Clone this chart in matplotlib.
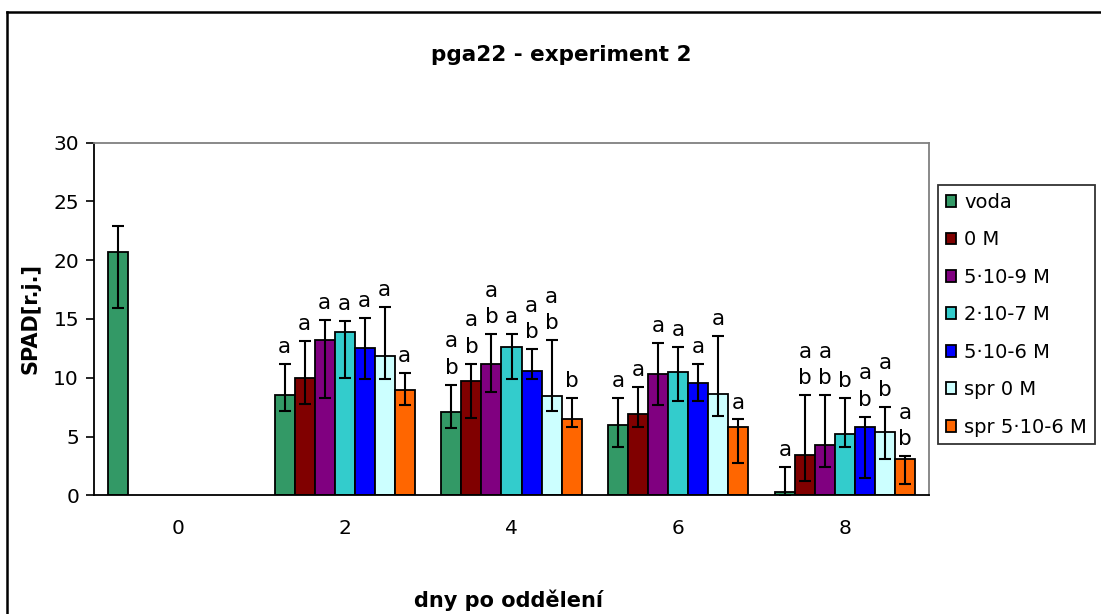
import numpy as np
import matplotlib.pyplot as plt
from matplotlib.lines import Line2D

plt.rcParams['font.family'] = ['DejaVu Sans']

days = ['0', '2', '4', '6', '8']
series = ['voda', '0 M', '5·10-9 M', '2·10-7 M', '5·10-6 M', 'spr 0 M', 'spr 5·10-6 M']
colors = ['#339966', '#800000', '#800080', '#33CCCC', '#0000FF', '#CCFFFF', '#FF6600']

nan = np.nan
voda = [20.7, 8.5, 7.05, 6.0, 0.25]
m0 = [nan, 10.0, 9.7, 6.9, 3.4]
m5e9 = [nan, 13.25, 11.2, 10.35, 4.3]
m2e7 = [nan, 13.9, 12.6, 10.5, 5.25]
m5e6 = [nan, 12.5, 10.6, 9.55, 5.85]
spr0 = [nan, 11.85, 8.45, 8.6, 5.4]
spr5e6 = [nan, 8.95, 6.45, 5.85, 3.05]
values = [voda, m0, m5e9, m2e7, m5e6, spr0, spr5e6]

# upper / lower error lengths
err_up = [[2.25, 2.7, 2.35, 2.3, 2.15],
          [nan, 3.1, 1.5, 2.3, 5.1],
          [nan, 1.65, 2.5, 2.6, 4.2],
          [nan, 0.9, 1.1, 2.1, 3.05],
          [nan, 2.6, 1.85, 1.65, 0.85],
          [nan, 4.15, 4.75, 4.95, 2.15],
          [nan, 1.45, 1.85, 0.6, 0.3]]
err_lo = [[4.8, 1.3, 1.35, 1.85, 0.25],
          [nan, 2.2, 3.1, 1.05, 2.2],
          [nan, 4.95, 2.45, 2.7, 1.85],
          [nan, 3.9, 2.7, 2.45, 1.1],
          [nan, 2.6, 0.7, 1.5, 4.35],
          [nan, 1.95, 1.25, 1.85, 2.35],
          [nan, 1.25, 0.6, 3.1, 2.1]]

letters = [['', 'a', 'a\nb', 'a', 'a'],
           ['', 'a', 'a\nb', 'a', 'a\nb'],
           ['', 'a', 'a\nb', 'a', 'a\nb'],
           ['', 'a', 'a', 'a', 'b'],
           ['', 'a', 'a\nb', 'a', 'a\nb'],
           ['', 'a', 'a\nb', 'a', 'a\nb'],
           ['', 'a', 'b', 'a', 'a\nb']]

W, H = 1101, 614
fig = plt.figure(figsize=(W / 100, H / 100), dpi=100)
ax = fig.add_axes([94.3 / W, 1 - 495.3 / H, (928.7 - 94.3) / W, (495.3 - 142.7) / H])

x = np.arange(len(days))
bw = 0.12
handles = []
for i, name in enumerate(series):
    pos = x + (i - 3) * bw
    vals = np.array(values[i], dtype=float)
    b = ax.bar(pos, vals, bw, color=colors[i], edgecolor='black', linewidth=1.3, label=name, zorder=2)
    handles.append(b)
    ax.errorbar(pos, vals, yerr=[err_lo[i], err_up[i]], fmt='none', ecolor='black',
                elinewidth=1.5, capsize=4.5, capthick=1.5, zorder=3)
    for j in range(len(days)):
        if letters[i][j]:
            top = vals[j] + err_up[i][j]
            ax.annotate(letters[i][j], (pos[j], top), xytext=(0, 5), textcoords='offset points',
                        ha='center', va='bottom', fontsize=15.5, linespacing=1.4, zorder=4)

ax.set_xlim(-0.5, 4.5)
ax.set_ylim(0, 30)
ax.set_yticks([0, 5, 10, 15, 20, 25, 30])
ax.set_xticks(x)
ax.set_xticklabels(days)
ax.tick_params(axis='y', length=6, width=1.2, labelsize=14.5, direction='out', pad=5)
ax.tick_params(axis='x', length=0, labelsize=14.5, pad=17)
for s in ['left', 'bottom']:
    ax.spines[s].set_color('black')
    ax.spines[s].set_linewidth(1.3)
for s in ['top', 'right']:
    ax.spines[s].set_color('#808080')
    ax.spines[s].set_linewidth(1.3)

ax.set_ylabel('SPAD[r.j.]', fontsize=15, fontweight='bold')
ax.yaxis.set_label_coords(-(94.3 - 40) / (928.7 - 94.3), 0.5)
fig.text(509 / W, 1 - 600 / H, 'dny po oddělení', fontsize=15, fontweight='bold', ha='center', va='center')
fig.text(561 / W, 1 - 55 / H, 'pga22 - experiment 2', fontsize=15.5, fontweight='bold', ha='center', va='center')

leg = fig.legend(handles=handles, loc='upper left', bbox_to_anchor=(938 / W, 1 - 185 / H),
                 borderaxespad=0, fontsize=14, frameon=True, fancybox=False, edgecolor='black',
                 handlelength=0.55, handleheight=0.55, handletextpad=0.4, labelspacing=0.95,
                 borderpad=0.4)
leg.get_frame().set_linewidth(1.3)

# outer chart border
fig.add_artist(Line2D([7 / W, 1.01], [1 - 12 / H, 1 - 12 / H], color='black', lw=1.8, transform=fig.transFigure))
fig.add_artist(Line2D([7 / W, 7 / W], [1 - 12 / H, -0.01], color='black', lw=1.8, transform=fig.transFigure))

fig.savefig('out.png', dpi=100)
